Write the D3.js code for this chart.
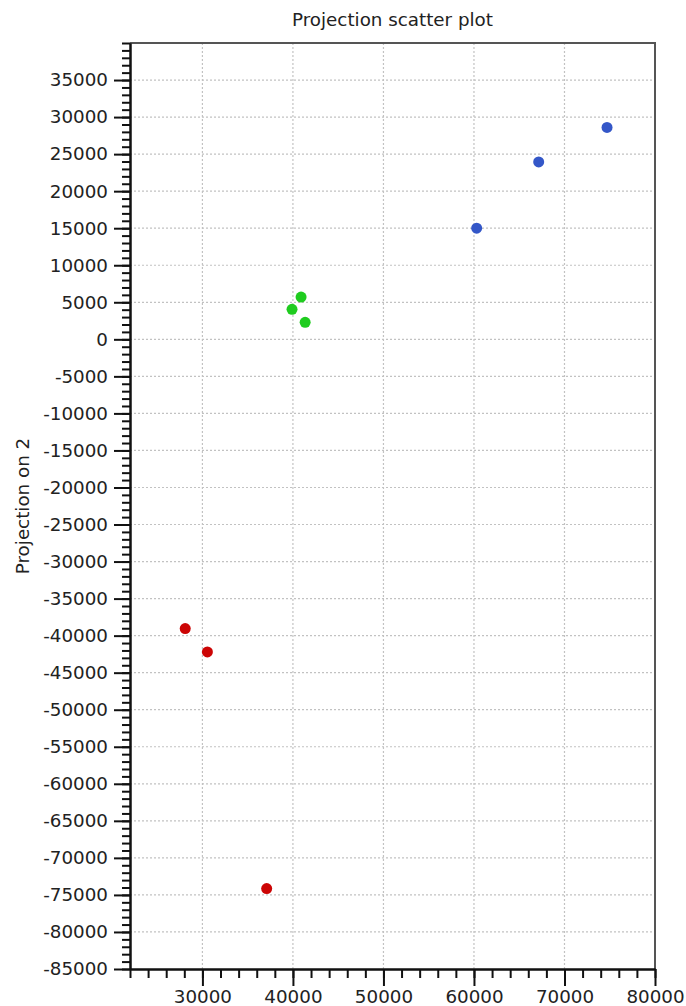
<!DOCTYPE html>
<html>
<head>
<meta charset="utf-8">
<script src="https://cdn.jsdelivr.net/npm/d3@7"></script>
<style>
  html, body { margin: 0; padding: 0; background: #fff; }
  svg { display: block; }
  text { font-family: "DejaVu Sans", sans-serif; fill: #222; }
</style>
</head>
<body>
<svg id="chart" width="686" height="1006"></svg>
<script>
// Projection coordinates for each group
const blueX  = [74700, 67150, 60300];
const blueY  = [28600, 23950, 15000];
const greenX = [40900, 39900, 41350];
const greenY = [5700, 4050, 2300];
const redX   = [28100, 30550, 37100];
const redY   = [-39050, -42200, -74150];

const xTickValues = [30000, 40000, 50000, 60000, 70000, 80000];
const yTickValues = [35000, 30000, 25000, 20000, 15000, 10000, 5000, 0,
  -5000, -10000, -15000, -20000, -25000, -30000, -35000, -40000, -45000,
  -50000, -55000, -60000, -65000, -70000, -75000, -80000, -85000];

const groups = [
  { xs: blueX,  ys: blueY,  color: "#3457c8" },
  { xs: greenX, ys: greenY, color: "#1fcc1f" },
  { xs: redX,   ys: redY,   color: "#cc0505" }
];

const FONT = 18.3;
const plotL = 130, plotR = 655, plotT = 43, plotB = 969;
const svg = d3.select("#chart");

const x = d3.scaleLinear().domain([22000, 80000]).range([plotL, plotR]);
const y = d3.scaleLinear().domain([-85000, 40000]).range([plotB, plotT]);

const xMinor = d3.range(22000, 80001, 2000);
const yMinor = d3.range(-85000, 40001, 1000);

// plain ASCII hyphen for negatives
const plain = d => String(d);

// dotted grid
svg.append("g").selectAll("line")
  .data(xTickValues.filter(v => v < 80000)).join("line")
  .attr("x1", d => x(d)).attr("x2", d => x(d))
  .attr("y1", plotT).attr("y2", plotB)
  .attr("stroke", "#c2c2c2").attr("stroke-width", 1.2)
  .attr("stroke-dasharray", "2,2");
svg.append("g").selectAll("line")
  .data(yTickValues.filter(v => v > -85000)).join("line")
  .attr("x1", plotL).attr("x2", plotR)
  .attr("y1", d => y(d)).attr("y2", d => y(d))
  .attr("stroke", "#c2c2c2").attr("stroke-width", 1.2)
  .attr("stroke-dasharray", "2,2");

// frame top/right
svg.append("path")
  .attr("d", `M${plotL},${plotT}H${plotR}V${plotB}`)
  .attr("fill", "none").attr("stroke", "#555").attr("stroke-width", 2);

// axes: minor ticks then labelled major ticks
const xMinorAxis = d3.axisBottom(x).tickValues(xMinor).tickSize(9).tickSizeOuter(0).tickFormat("");
const yMinorAxis = d3.axisLeft(y).tickValues(yMinor).tickSize(8).tickSizeOuter(0).tickFormat("");
const xMajorAxis = d3.axisBottom(x).tickValues(xTickValues).tickSize(17).tickSizeOuter(0).tickPadding(4).tickFormat(plain);
const yMajorAxis = d3.axisLeft(y).tickValues(yTickValues).tickSize(16).tickSizeOuter(0).tickPadding(6).tickFormat(plain);

function styleAxis(g) {
  g.select(".domain").attr("stroke", "#111").attr("stroke-width", 2);
  g.selectAll(".tick line").attr("stroke", "#111").attr("stroke-width", 2);
  g.selectAll(".tick text").attr("font-size", FONT).attr("fill", "#222");
}

svg.append("g").attr("transform", `translate(0,${plotB})`).call(xMinorAxis).call(styleAxis);
svg.append("g").attr("transform", `translate(${plotL},0)`).call(yMinorAxis).call(styleAxis);
svg.append("g").attr("transform", `translate(0,${plotB})`).call(xMajorAxis).call(styleAxis);
svg.append("g").attr("transform", `translate(${plotL},0)`).call(yMajorAxis).call(styleAxis);

// points
groups.forEach(gp => {
  svg.append("g").selectAll("circle")
    .data(gp.xs.map((v, i) => [v, gp.ys[i]])).join("circle")
    .attr("cx", d => x(d[0])).attr("cy", d => y(d[1]))
    .attr("r", 5.5).attr("fill", gp.color);
});

// title
svg.append("text").attr("x", (plotL + plotR) / 2).attr("y", 26)
  .attr("text-anchor", "middle").attr("font-size", FONT)
  .text("Projection scatter plot");

// y-axis label
svg.append("text")
  .attr("transform", `translate(29,${(plotT + plotB) / 2}) rotate(-90)`)
  .attr("text-anchor", "middle").attr("font-size", FONT)
  .text("Projection on 2");
</script>
</body>
</html>
